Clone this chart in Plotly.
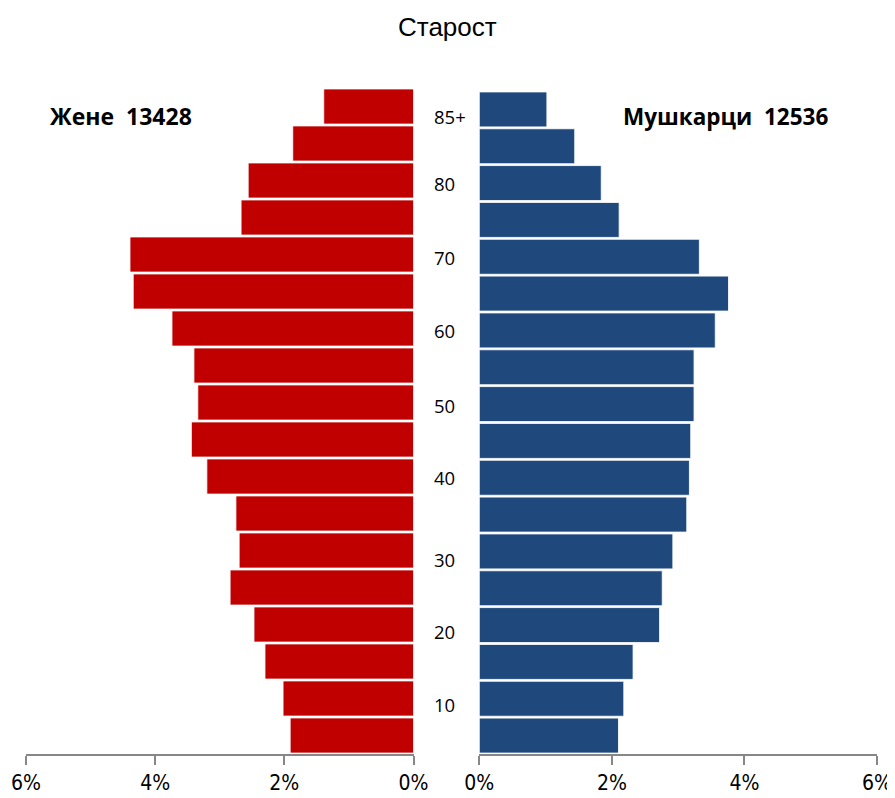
import plotly.graph_objects as go

age_groups = ["0-4", "5-9", "10-14", "15-19", "20-24", "25-29", "30-34", "35-39",
              "40-44", "45-49", "50-54", "55-59", "60-64", "65-69", "70-74", "75-79",
              "80-84", "85+"]
women_pct = [1.91, 2.02, 2.30, 2.47, 2.84, 2.70, 2.75, 3.20, 3.44, 3.34, 3.40, 3.74,
             4.34, 4.39, 2.67, 2.56, 1.87, 1.39]
men_pct = [2.10, 2.18, 2.32, 2.72, 2.76, 2.92, 3.13, 3.17, 3.19, 3.24, 3.24, 3.56,
           3.76, 3.32, 2.11, 1.84, 1.44, 1.02]
women_total = 13428
men_total = 12536
mid_label_text = ["10", "20", "30", "40", "50", "60", "70", "80", "85+"]
mid_label_pos = [0.85, 2.8, 4.75, 6.97, 8.92, 10.95, 12.93, 14.93, 16.74]
tick_vals = [0, 2, 4, 6]
tick_text = ["0%", "2%", "4%", "6%"]

# page body margin offset (px) and figure size
OFF = 8
W, H = 895, 798


def px(x):
    return (x - OFF) / W


def py(y):
    return (H - (y - OFF)) / H


fig = go.Figure()
fig.add_trace(go.Bar(
    x=women_pct, y=age_groups, orientation="h", xaxis="x", yaxis="y",
    marker=dict(color="#C00000", line=dict(color="rgba(255,255,255,0.85)", width=1)),
    showlegend=False, hoverinfo="x+y"))
fig.add_trace(go.Bar(
    x=men_pct, y=age_groups, orientation="h", xaxis="x2", yaxis="y2",
    marker=dict(color="#1F497D", line=dict(color="rgba(255,255,255,0.85)", width=1)),
    showlegend=False, hoverinfo="x+y"))

tickfont = dict(family="DejaVu Sans Condensed, DejaVu Sans, sans-serif", size=21, color="#000000")
axis_common = dict(
    tickvals=tick_vals, ticktext=tick_text, showline=True, linecolor="#878787",
    linewidth=2, ticks="outside", ticklen=9, tickwidth=2, tickcolor="#878787",
    showgrid=False, zeroline=False, tickfont=tickfont, fixedrange=True,
    automargin=False)

fig.update_layout(
    width=W, height=H,
    margin=dict(l=0, r=0, t=0, b=0, pad=0, autoexpand=False),
    paper_bgcolor="white", plot_bgcolor="white",
    bargap=0.05,
    xaxis=dict(domain=[px(26), px(413.5)], range=[6, 0], anchor="y", **axis_common),
    xaxis2=dict(domain=[px(479.3), px(877)], range=[0, 6], anchor="y2", **axis_common),
    yaxis=dict(domain=[py(754), py(88)], range=[-0.5, 17.5], anchor="x",
               showticklabels=False, showgrid=False, zeroline=False, showline=False,
               ticks="", type="category", automargin=False),
    yaxis2=dict(domain=[py(754), py(91)], range=[-0.5, 17.5], anchor="x2",
                showticklabels=False, showgrid=False, zeroline=False, showline=False,
                ticks="", type="category", automargin=False),
)

annotations = []
for txt, pos in zip(mid_label_text, mid_label_pos):
    annotations.append(dict(
        text=txt, x=px(432), xref="paper", y=pos, yref="y", xanchor="left",
        yanchor="middle", showarrow=False,
        font=dict(family="Open Sans, sans-serif", size=18.5, color="#000000")))

annotations.append(dict(
    text="Старост", x=px(447), y=py(27), xref="paper", yref="paper",
    xanchor="center", yanchor="middle", showarrow=False,
    font=dict(family="Liberation Sans, Arial, sans-serif", size=26, color="#000000")))
annotations.append(dict(
    text="Жене\u00a0\u00a0" + str(women_total), x=px(121), y=py(116),
    xref="paper", yref="paper", xanchor="center", yanchor="middle", showarrow=False,
    font=dict(family="Open Sans, sans-serif", size=23, color="#000000", weight="bold")))
annotations.append(dict(
    text="Мушкарци\u00a0\u00a0" + str(men_total), x=px(725), y=py(116),
    xref="paper", yref="paper", xanchor="center", yanchor="middle", showarrow=False,
    font=dict(family="Open Sans, sans-serif", size=22.5, color="#000000", weight="bold")))

fig.update_layout(annotations=annotations)
fig.write_html("out.html")
